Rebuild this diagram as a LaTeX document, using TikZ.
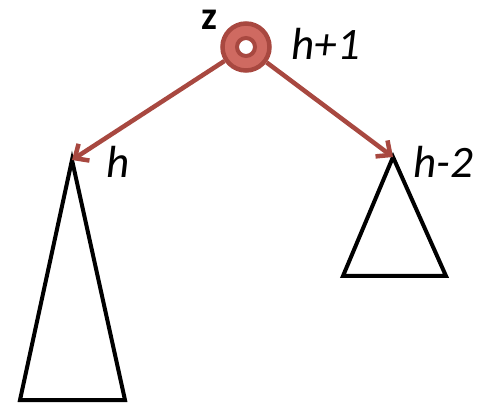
\documentclass[tikz,border=0pt]{standalone}
\usepackage{fontspec}
\setmainfont{Carlito}
\usetikzlibrary{arrows.meta}
\definecolor{ringfill}{RGB}{207,106,97}
\definecolor{ringdark}{RGB}{168,72,64}
\begin{document}
\begin{tikzpicture}[x=1pt,y=-1pt,
  tri/.style={draw=black,line width=4pt,line join=miter},
  edge/.style={draw=ringdark,line width=4.5pt,-{Straight Barb[length=11pt,width=20pt,line width=4.5pt]}},
  lbl/.style={font=\fontsize{45}{50}\selectfont\itshape,inner sep=0pt}]
\useasboundingbox (0,0) rectangle (485,406);
\node[circle,minimum size=47pt,inner sep=0pt,fill=ringfill,draw=ringdark,line width=4.5pt] (z) at (246,47) {};
\node[circle,minimum size=18pt,inner sep=0pt,fill=white,draw=ringdark,line width=4pt] (zi) at (246,47) {};
\node[font=\fontsize{40}{44}\selectfont\bfseries,inner sep=0pt] (zl) at (209,20) {z};
\node[lbl] (l1) at (326,44) {h+1};
\coordinate (a) at (72,160);
\coordinate (b) at (393,157);
\draw[tri] (a) -- (125,400) -- (20,400) -- cycle;
\draw[tri] (b) -- (446,276) -- (343,276) -- cycle;
\node[lbl] (l2) at (118,162) {h};
\node[lbl] (l3) at (443,162) {h-2};
\draw[edge] (z) -- (a);
\draw[edge] (z) -- (b);
\end{tikzpicture}
\end{document}
